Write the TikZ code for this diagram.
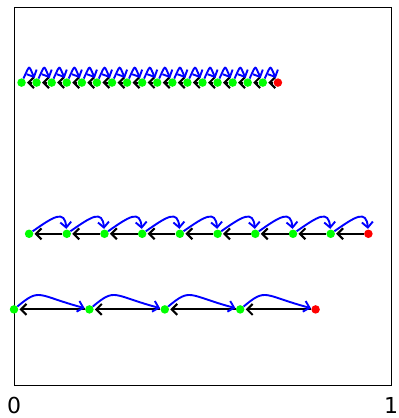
\documentclass[tikz,border=0pt]{standalone}
\usepackage{fontspec}
\setmainfont{DejaVu Sans}
\usetikzlibrary{arrows.meta}
\begin{document}
\begin{tikzpicture}[x=377pt,y=378pt,
  dot/.style={circle,fill=#1,inner sep=0pt,minimum size=8.5pt},
  blk/.style={draw=black,line width=2.1pt,-{Straight Barb[length=5.5pt,width=11pt]},shorten >=1pt},
  blu/.style={draw=blue,line width=1.9pt,-{Straight Barb[length=5.5pt,width=11pt]},shorten >=0.5pt},
  tick/.style={anchor=base,inner sep=1pt,font=\fontsize{22}{26}\selectfont}]
\useasboundingbox (-0.03714,-0.0873) rectangle (1.0212,1.0185);
\draw[line width=0.8pt] (0,0) rectangle (1,1);
\node[tick] (l0) at (0,-0.0765) {0};
\node[tick] (l1) at (1,-0.0765) {1};
% bottom row
\foreach \i in {0,...,3}{\node[dot=green] (b\i) at (0.2*\i,0.2) {};}
\node[dot=red] (b4) at (0.8,0.2) {};
% middle row
\foreach \i in {0,...,8}{\node[dot=green] (m\i) at (0.04+0.1*\i,0.4) {};}
\node[dot=red] (m9) at (0.94,0.4) {};
% top row
\foreach \i in {0,...,16}{\node[dot=green] (t\i) at (0.02+0.04*\i,0.8) {};}
\node[dot=red] (t17) at (0.70,0.8) {};
% arrows
\foreach \i [evaluate=\i as \j using int(\i+1)] in {0,...,3}{
  \draw[blk] (b\j) -- (b\i);
  \draw[blu] (b\i) to[out=40,in=165,out distance=30pt,in distance=50pt] (b\j);
}
\foreach \i [evaluate=\i as \j using int(\i+1)] in {0,...,8}{
  \draw[blk] (m\j) -- (m\i);
  \draw[blu] (m\i) to[out=35,in=95,out distance=26pt,in distance=20pt] (m\j);
}
\foreach \i [evaluate=\i as \j using int(\i+1)] in {0,...,16}{
  \draw[blk] (t\j) -- (t\i);
  \draw[blu] (t\i) to[out=65,in=115,out distance=16pt,in distance=15pt] (t\j);
}
\end{tikzpicture}
\end{document}
